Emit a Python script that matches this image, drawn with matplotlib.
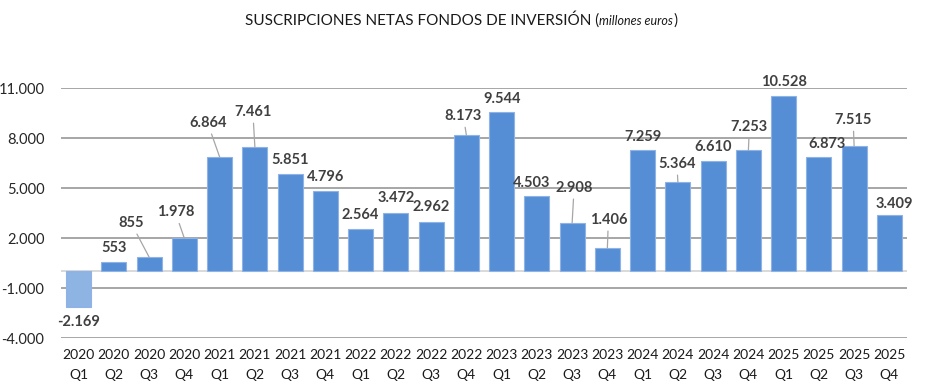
import numpy as np
import matplotlib.pyplot as plt

years = ["2020"] * 4 + ["2021"] * 4 + ["2022"] * 4 + ["2023"] * 4 + ["2024"] * 4 + ["2025"] * 4
quarters = ["Q1", "Q2", "Q3", "Q4"] * 6
values = [-2169, 553, 855, 1978, 6864, 7461, 5851, 4796,
          2564, 3472, 2962, 8173, 9544, 4503, 2908, 1406,
          7259, 5364, 6610, 7253, 10528, 6873, 7515, 3409]
labels = ["-2.169", "553", "855", "1.978", "6.864", "7.461", "5.851", "4.796",
          "2.564", "3.472", "2.962", "8.173", "9.544", "4.503", "2.908", "1.406",
          "7.259", "5.364", "6.610", "7.253", "10.528", "6.873", "7.515", "3.409"]
yticks = [-4000, -1000, 2000, 5000, 8000, 11000]
ytick_labels = ["-4.000", "-1.000", "2.000", "5.000", "8.000", "11.000"]

# label offsets in pixels from bar end (dx, dy) and whether a leader line is drawn
offsets = [(0, -15), (0, 14), (-18, 34), (-9, 26), (-12, 34), (-2, 35), (0, 14), (0, 14),
           (0, 14), (0, 15), (0, 15), (-3, 19), (0, 13), (-5, 13), (2, 35), (1, 28),
           (0, 13), (-1, 18), (0, 14), (1, 23), (0, 14), (8, 13), (-1, 26), (5, 11)]
leaders = [False, False, True, True, True, True, False, False,
           False, False, False, True, False, False, True, True,
           False, True, False, True, False, False, True, False]

plt.rcParams["font.family"] = ["Lato", "DejaVu Sans"]

W, H = 931, 392
fig = plt.figure(figsize=(W / 100, H / 100), dpi=100)
ax = fig.add_axes([61 / W, (H - 338) / H, (907 - 61) / W, 250 / H])

x = np.arange(len(values))
colors = ["#8DB4E2"] + ["#558ED5"] * (len(values) - 1)
ax.bar(x, values, width=0.71, color=colors, edgecolor="#8FB3E6", linewidth=0.8, zorder=3)

ax.set_xlim(-0.5, len(values) - 0.5)
ax.set_ylim(-4000, 11000)
ax.set_yticks(yticks)
ax.set_yticklabels(ytick_labels, fontsize=10.5, color="#262626")
ax.set_xticks(x)
ax.set_xticklabels([f"{y}\n{q}" for y, q in zip(years, quarters)],
                   fontsize=10, color="#1a1a1a", linespacing=1.8)
ax.tick_params(axis="both", length=0)
ax.tick_params(axis="y", pad=12)
ax.tick_params(axis="x", pad=8)
ax.grid(axis="y", color="#A6A6A6", linewidth=1.4, zorder=0)
ax.axhline(0, color="#D9D9D9", linewidth=1.4, zorder=1)
for s in ax.spines.values():
    s.set_visible(False)

for i, (v, lab) in enumerate(zip(values, labels)):
    dx, dy = offsets[i]
    props = None
    if leaders[i]:
        props = dict(arrowstyle="-", color="#A6A6A6", lw=0.9, shrinkA=1, shrinkB=0)
    ax.annotate(lab, xy=(i, v), xytext=(dx, dy), textcoords="offset pixels",
                ha="center", va="center", fontsize=10.5, fontweight="bold",
                color="#404040", arrowprops=props, annotation_clip=False, zorder=4)

# title with italic unit part
fig.canvas.draw()
r = fig.canvas.get_renderer()
t1 = fig.text(0, 0, "SUSCRIPCIONES NETAS FONDOS DE INVERSIÓN (", fontsize=11, color="#1a1a1a")
t2 = fig.text(0, 0, "millones euros", fontsize=9, style="italic", color="#1a1a1a")
t3 = fig.text(0, 0, ")", fontsize=11, color="#1a1a1a")
w = [t.get_window_extent(r).width for t in (t1, t2, t3)]
x0 = 461 - sum(w) / 2
ty = (H - 25) / H
t1.set_position((x0 / W, ty))
t2.set_position(((x0 + w[0]) / W, ty))
t3.set_position(((x0 + w[0] + w[1]) / W, ty))

fig.savefig("out.png", dpi=100)
